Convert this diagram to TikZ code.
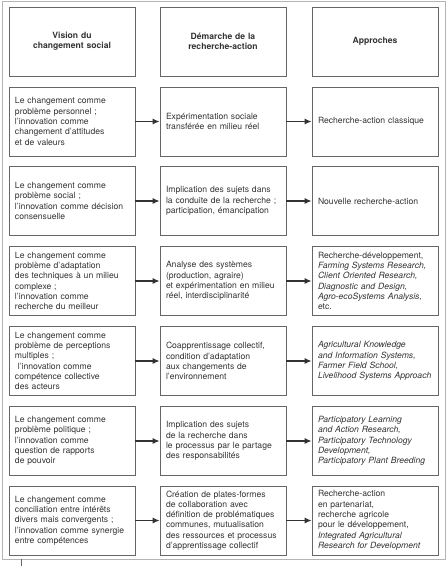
\documentclass[tikz,border=0pt]{standalone}
\usepackage{fontspec}
\setmainfont{TeX Gyre Heros}
\usetikzlibrary{arrows.meta}
\definecolor{boxgray}{HTML}{666666}
\definecolor{textgray}{HTML}{333333}
\definecolor{framegray}{HTML}{B4B4B4}

\begin{document}
\begin{tikzpicture}[x=1pt, y=-1pt,
  box/.style={draw=boxgray, line width=0.8pt, minimum width=126pt, minimum height=69pt,
    text width=114pt, inner xsep=6pt, align=left, text=textgray,
    font=\fontsize{8.6}{10.3}\selectfont},
  head/.style={box, align=center, font=\fontsize{8.6}{10.3}\selectfont\bfseries},
  link/.style={-{Latex[length=7pt,width=6pt]}, line width=1.1pt, draw=textgray}]
\useasboundingbox (0,0) rectangle (447,566);
% outer frame
\draw[framegray, line width=0.8pt] (2,1) rectangle (445,559);
\draw[boxgray, line width=0.6pt] (21,559) -- (21,566);

% Headers
\node[head] (h1) at (72,41.5) {Vision du\\changement social};
\node[head] (h2) at (223,41.5) {Démarche de la\\recherche-action};
\node[head] (h3) at (375,41.5) {Approches};

% Row 1
\node[box] (v1) at (72,121.5) {Le changement comme\\problème personnel ;\\l’innovation comme\\changement d’attitudes\\et de valeurs};
\node[box] (d1) at (223,121.5) {Expérimentation sociale\\transférée en milieu réel};
\node[box] (a1) at (375,121.5) {Recherche-action classique};

% Row 2
\node[box] (v2) at (72,201) {Le changement comme\\problème social ;\\l’innovation comme décision\\consensuelle};
\node[box] (d2) at (223,201) {Implication des sujets dans\\la conduite de la recherche ;\\participation, émancipation};
\node[box] (a2) at (375,201) {Nouvelle recherche-action};

% Row 3
\node[box] (v3) at (72,281) {Le changement comme\\problème d’adaptation\\des techniques à un milieu\\complexe ;\\l’innovation comme\\recherche du meilleur};
\node[box] (d3) at (223,281) {Analyse des systèmes\\(production, agraire)\\et expérimentation en milieu\\réel, interdisciplinarité};
\node[box] (a3) at (375,281) {Recherche-développement,\\\textit{Farming Systems Research,}\\\textit{Client Oriented Research,}\\\textit{Diagnostic and Design,}\\\textit{Agro-ecoSystems Analysis,}\\etc.};

% Row 4
\node[box] (v4) at (72,361) {Le changement comme\\problème de perceptions\\multiples ;\\\ l’innovation comme\\compétence collective\\des acteurs};
\node[box] (d4) at (223,361) {Coapprentissage collectif,\\condition d’adaptation\\aux changements de\\l’environnement};
\node[box] (a4) at (375,361) {\textit{Agricultural Knowledge}\\\textit{and Information Systems,}\\\textit{Farmer Field School,}\\\textit{Livelihood Systems Approach}};

% Row 5
\node[box] (v5) at (72,441) {Le changement comme\\problème politique ;\\l’innovation comme\\question de rapports\\de pouvoir};
\node[box] (d5) at (223,441) {Implication des sujets\\de la recherche dans\\le processus par le partage\\des responsabilités};
\node[box] (a5) at (375,441) {\textit{Participatory Learning}\\\textit{and Action Research,}\\\textit{Participatory Technology}\\\textit{Development,}\\\textit{Participatory Plant Breeding}};

% Row 6
\node[box] (v6) at (72,520.5) {Le changement comme\\conciliation entre intérêts\\divers mais convergents ;\\l’innovation comme synergie\\entre compétences};
\node[box] (d6) at (223,520.5) {Création de plates-formes\\de collaboration avec\\définition de problématiques\\communes, mutualisation\\des ressources et processus\\d’apprentissage collectif};
\node[box] (a6) at (375,520.5) {Recherche-action\\en partenariat,\\recherche agricole\\pour le développement,\\\textit{Integrated Agricultural}\\\textit{Research for Development}};

% Arrows
\draw[link] (v1) -- (d1);
\draw[link] (d1) -- (a1);
\draw[link] (v2) -- (d2);
\draw[link] (d2) -- (a2);
\draw[link] (v3) -- (d3);
\draw[link] (d3) -- (a3);
\draw[link] (v4) -- (d4);
\draw[link] (d4) -- (a4);
\draw[link] (v5) -- (d5);
\draw[link] (d5) -- (a5);
\draw[link] (v6) -- (d6);
\draw[link] (d6) -- (a6);
\end{tikzpicture}
\end{document}
